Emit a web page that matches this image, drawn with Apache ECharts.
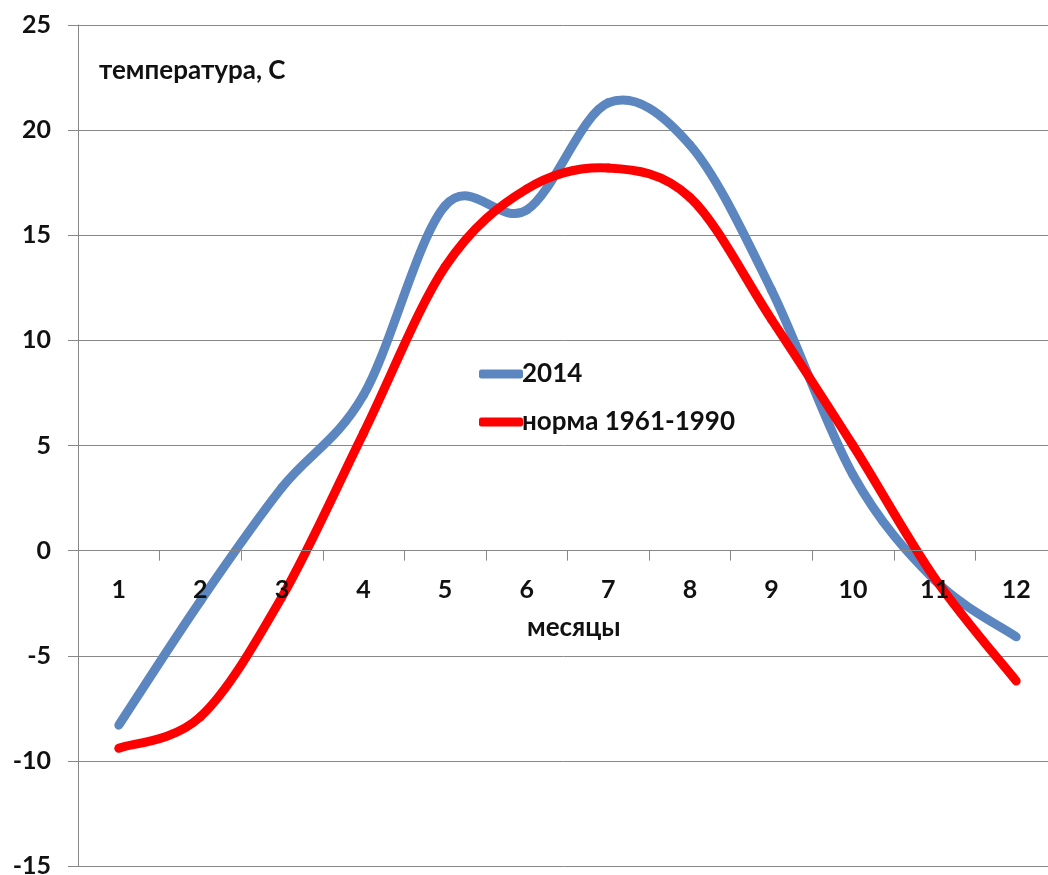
<!DOCTYPE html>
<html>
<head>
<meta charset="utf-8">
<script src="https://cdn.jsdelivr.net/npm/echarts@6/dist/echarts.min.js"></script>
<style>
  html, body { margin: 0; padding: 0; background: #fff; }
  #chart { width: 1048px; height: 875px; }
</style>
</head>
<body>
<div id="chart"></div>
<script>
// месяцы
var months = ['1', '2', '3', '4', '5', '6', '7', '8', '9', '10', '11', '12'];
// температура 2014
var temp2014 = [-8.3, -2.4, 3.0, 7.4, 16.4, 16.2, 21.3, 19.3, 12.4, 3.6, -1.4, -4.1];
// норма 1961-1990
var tempNorm = [-9.4, -7.9, -2.2, 5.6, 13.5, 17.2, 18.2, 16.8, 11.0, 5.0, -1.3, -6.2];
var yTicks = { min: -15, max: 25, step: 5 };

var font = 'Lato, "Open Sans", sans-serif';
var gridColor = '#878787';
var plotH = 841;

// сглаженная линия как в Excel (Catmull-Rom -> Bezier), точки через api.coord
function smoothLine(values, color) {
    return function (params, api) {
        var i = params.dataIndex;
        if (i >= values.length - 1) return null;
        var p = function (k) {
            k = Math.max(0, Math.min(values.length - 1, k));
            return api.coord([k, values[k]]);
        };
        var p0 = p(i - 1), p1 = p(i), p2 = p(i + 1), p3 = p(i + 2);
        return {
            type: 'bezierCurve',
            shape: {
                x1: p1[0], y1: p1[1],
                x2: p2[0], y2: p2[1],
                cpx1: p1[0] + (p2[0] - p0[0]) / 6, cpy1: p1[1] + (p2[1] - p0[1]) / 6,
                cpx2: p2[0] - (p3[0] - p1[0]) / 6, cpy2: p2[1] - (p3[1] - p1[1]) / 6
            },
            style: { stroke: color, lineWidth: 9, fill: null, lineCap: 'round' }
        };
    };
}

function toData(values) {
    return values.map(function (v, i) { return [i, v]; });
}

var chart = echarts.init(document.getElementById('chart'));
var option = {
    animation: false,
    backgroundColor: '#fff',
    textStyle: { fontFamily: font },
    grid: { left: 78, top: 25, width: 979, height: plotH, outerBoundsMode: 'none', containLabel: false },
    legend: {
        orient: 'vertical',
        left: 474,
        top: 356,
        itemWidth: 44,
        itemHeight: 9,
        itemGap: 22,
        icon: 'roundRect',
        textStyle: { fontFamily: font, fontSize: 26, fontWeight: 'bold', color: '#111', padding: [0, 0, 0, -6] },
        data: ['2014', 'норма 1961-1990']
    },
    xAxis: {
        type: 'category',
        data: months,
        boundaryGap: true,
        position: 'bottom',
        z: 10,
        // ось проходит через 0
        offset: -(0 - yTicks.min) / (yTicks.max - yTicks.min) * plotH,
        axisLine: { onZero: false, lineStyle: { color: gridColor, width: 1 } },
        axisTick: { show: true, length: 10, lineStyle: { color: gridColor } },
        axisLabel: { fontFamily: font, fontSize: 25, fontWeight: 'bold', color: '#111', margin: 27 },
        splitLine: { show: false }
    },
    yAxis: {
        type: 'value',
        min: yTicks.min,
        max: yTicks.max,
        interval: yTicks.step,
        axisLine: { show: true, lineStyle: { color: gridColor, width: 1 } },
        axisTick: { show: true, length: 10, lineStyle: { color: gridColor } },
        axisLabel: { fontFamily: font, fontSize: 25, fontWeight: 'bold', color: '#111', margin: 27 },
        splitLine: { show: true, lineStyle: { color: gridColor, width: 1 } }
    },
    graphic: [
        {
            type: 'text', left: 99, top: 58,
            style: { text: 'температура, С', fontFamily: font, fontSize: 26, fontWeight: 'bold', fill: '#111' }
        },
        {
            type: 'text', left: 527, top: 615,
            style: { text: 'месяцы', fontFamily: font, fontSize: 26, fontWeight: 'bold', fill: '#111' }
        }
    ],
    series: [
        {
            name: '2014',
            type: 'custom',
            data: toData(temp2014),
            encode: { x: 0, y: 1 },
            itemStyle: { color: '#5B86BF' },
            renderItem: smoothLine(temp2014, '#5B86BF')
        },
        {
            name: 'норма 1961-1990',
            type: 'custom',
            data: toData(tempNorm),
            encode: { x: 0, y: 1 },
            itemStyle: { color: '#FF0000' },
            renderItem: smoothLine(tempNorm, '#FF0000')
        }
    ]
};
chart.setOption(option);
</script>
</body>
</html>
